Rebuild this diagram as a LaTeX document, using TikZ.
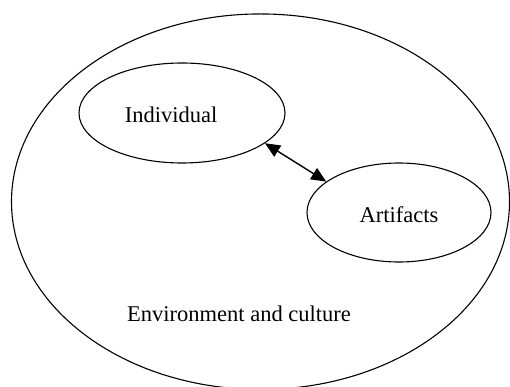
\documentclass[tikz,border=0pt]{standalone}
\usepackage{fontspec}
\setmainfont{Liberation Serif}
\usetikzlibrary{arrows.meta, shapes.geometric}

\begin{document}
\begin{tikzpicture}[x=1pt,y=-1pt,
  every node/.style={font=\fontsize{22.5}{27}\selectfont},
  oval/.style={draw, ellipse, line width=1.1pt, inner sep=0pt}]
\useasboundingbox (0,0) rectangle (510,387);
\node[oval, minimum width=498pt, minimum height=375.5pt] (env) at (260.5,201.7) {};
\node[oval, minimum width=206pt, minimum height=100pt] (ind) at (182,113) {};
\node[oval, minimum width=184pt, minimum height=99pt] (art) at (399,212.5) {};
\node (indtext) at (171,115) {Individual};
\node (arttext) at (399,214.5) {Artifacts};
\node (envtext) at (239,313.5) {Environment and culture};
\draw[line width=1.4pt, {Triangle[length=15pt,width=13pt]}-{Triangle[length=15pt,width=13pt]}] (ind.-20) -- (art.157);
\end{tikzpicture}
\end{document}
